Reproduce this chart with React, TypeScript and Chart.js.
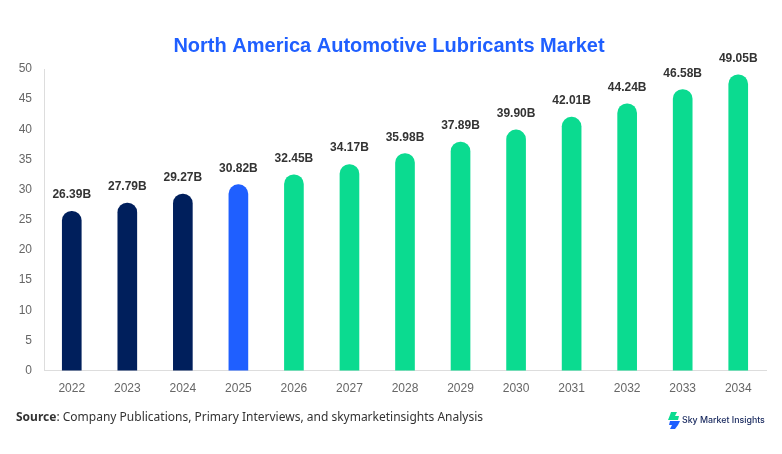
import { useEffect, useRef } from 'react';
import { Chart, registerables } from 'chart.js';
import type { Plugin } from 'chart.js';

Chart.register(...registerables);

const years = ['2022', '2023', '2024', '2025', '2026', '2027', '2028', '2029', '2030', '2031', '2032', '2033', '2034'];
const marketSize = [26.39, 27.79, 29.27, 30.82, 32.45, 34.17, 35.98, 37.89, 39.9, 42.01, 44.24, 46.58, 49.05];
const barColors = [
  '#001f5c', '#001f5c', '#001f5c', '#1f5fff', '#0bdb90', '#0bdb90', '#0bdb90',
  '#0bdb90', '#0bdb90', '#0bdb90', '#0bdb90', '#0bdb90', '#0bdb90',
];
const yTicks = [0, 5, 10, 15, 20, 25, 30, 35, 40, 45, 50];

// value labels above each bar
const barLabels: Plugin<'bar'> = {
  id: 'barLabels',
  afterDatasetsDraw(chart) {
    const { ctx } = chart;
    ctx.save();
    ctx.font = 'bold 12px "Liberation Sans"';
    ctx.fillStyle = '#333333';
    ctx.textAlign = 'center';
    ctx.textBaseline = 'alphabetic';
    chart.getDatasetMeta(0).data.forEach((bar, i) => {
      ctx.fillText(marketSize[i].toFixed(2) + 'B', bar.x, bar.y - 13);
    });
    ctx.restore();
  },
};

const App = () => {
  const chartRef = useRef<HTMLCanvasElement>(null);

  useEffect(() => {
    document.body.style.margin = '0';
    if (!chartRef.current) return;
    const chart = new Chart(chartRef.current, {
      type: 'bar',
      data: {
        labels: years,
        datasets: [
          {
            data: marketSize,
            backgroundColor: barColors,
            barThickness: 19,
            borderRadius: { topLeft: 10, topRight: 10, bottomLeft: 0, bottomRight: 0 },
            borderSkipped: false,
          },
        ],
      },
      options: {
        responsive: false,
        animation: false,
        layout: { padding: { left: 12, right: 16, top: 0, bottom: 55 } },
        plugins: {
          legend: { display: false },
          tooltip: { enabled: false },
          title: {
            display: true,
            text: 'North America Automotive Lubricants Market',
            color: '#1f5fff',
            font: { family: '"Liberation Sans"', size: 20, weight: 'bold' },
            padding: { top: 34, bottom: 11 },
          },
        },
        scales: {
          x: {
            grid: { display: false },
            border: { color: '#dddddd' },
            ticks: { color: '#666666', font: { family: '"Liberation Sans"', size: 12 }, padding: 3, maxRotation: 0 },
          },
          y: {
            min: 0,
            max: 50,
            afterBuildTicks: (axis) => {
              axis.ticks = yTicks.map((value) => ({ value }));
            },
            afterFit: (axis) => {
              axis.width = 32;
            },
            grid: { display: false },
            border: { color: '#dddddd' },
            ticks: { color: '#666666', font: { family: '"Liberation Sans"', size: 12 }, padding: 4 },
          },
        },
      },
      plugins: [barLabels],
    });
    return () => chart.destroy();
  }, []);

  return (
    <div style={{ position: 'relative', width: 782, height: 454, background: '#fff' }}>
      <canvas ref={chartRef} width={782} height={454} style={{ display: 'block' }} />
      <div style={{ position: 'absolute', left: 16, top: 408, fontFamily: '"Noto Sans"', fontSize: 12, color: '#333', whiteSpace: 'nowrap' }}>
        <b>Source</b>: Company Publications, Primary Interviews, and skymarketinsights Analysis
      </div>
      <svg style={{ position: 'absolute', left: 667, top: 412 }} width={14} height={17} viewBox="0 0 14 17">
        <polygon points="4,0 10,0 8,4 12,4 11,8 1,8 3,3" fill="#0bdb90" />
        <polygon points="3,9 13,9 11,13 8,17 3,17 5,13 2,13" fill="#1f5fff" />
      </svg>
      <div style={{ position: 'absolute', left: 682, top: 414, fontFamily: 'Inter', fontSize: 8.8, fontWeight: 500, color: '#15265c', whiteSpace: 'nowrap' }}>
        Sky Market Insights
      </div>
    </div>
  );
};

export default App;
